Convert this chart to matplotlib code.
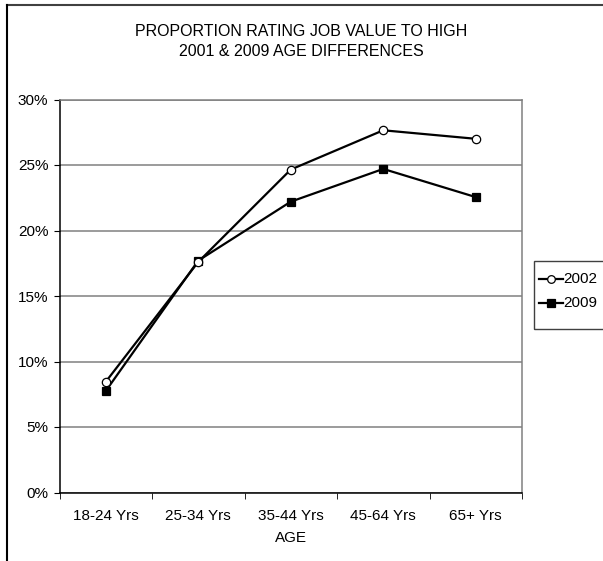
import numpy as np
import matplotlib.pyplot as plt
from matplotlib.lines import Line2D
from matplotlib.patches import Rectangle
from matplotlib.ticker import FixedLocator, PercentFormatter

plt.rcParams['font.family'] = ['Liberation Sans', 'DejaVu Sans']

ages = ['18-24 Yrs', '25-34 Yrs', '35-44 Yrs', '45-64 Yrs', '65+ Yrs']
y2002 = [8.45, 17.6, 24.65, 27.65, 27.0]
y2009 = [7.75, 17.7, 22.2, 24.7, 22.55]
series = [('2002', y2002, 'o', 'white'), ('2009', y2009, 's', 'black')]

W, H = 603, 561
fig = plt.figure(figsize=(W / 100, H / 100), dpi=100)
ax = fig.add_axes([59.5 / W, 1 - 492.5 / H, (522 - 59.5) / W, (492.5 - 99.5) / H])

x = np.arange(len(ages))
for i, (name, vals, mk, fc) in enumerate(series):
    ax.plot(x, vals, '-' + mk, color='black', lw=1.6, ms=6, mfc=fc, mec='black', mew=0.9,
            label=name, zorder=4 - i)

ax.set_xlim(-0.5, len(ages) - 0.5)
ax.set_ylim(0, 30)
ax.set_yticks(np.arange(0, 31, 5))
ax.yaxis.set_major_formatter(PercentFormatter(decimals=0))
ax.yaxis.grid(True, color='#808080', lw=1.1)
ax.set_axisbelow(True)

ax.set_xticks(x)
ax.set_xticklabels(ages)
ax.xaxis.set_minor_locator(FixedLocator(np.arange(-0.5, len(ages), 1)))
ax.tick_params(axis='x', which='major', length=0, pad=12, labelsize=11)
ax.tick_params(axis='x', which='minor', length=4, direction='out', color='black')
ax.tick_params(axis='y', length=4, direction='out', labelsize=11, pad=4)

for s in ['top', 'right']:
    ax.spines[s].set_color('#808080')
    ax.spines[s].set_linewidth(1.1)
for s in ['left', 'bottom']:
    ax.spines[s].set_color('black')
    ax.spines[s].set_linewidth(1.1)

ax.set_xlabel('AGE', fontsize=11, labelpad=6)

fig.text(0.5, 1 - 32 / H, 'PROPORTION RATING JOB VALUE TO HIGH', ha='center', va='center', fontsize=11.5)
fig.text(0.5, 1 - 51 / H, '2001 & 2009 AGE DIFFERENCES', ha='center', va='center', fontsize=11.5)

# legend drawn in figure pixels
fig.add_artist(Rectangle((534 / W, 1 - 329 / H), 80 / W, 68 / H, transform=fig.transFigure,
                         fill=False, edgecolor='#404040', lw=1.0))
for (name, vals, mk, fc), ly in zip(series, [279, 303]):
    yy = 1 - ly / H
    fig.add_artist(Line2D([539 / W, 563 / W], [yy, yy], color='black', lw=1.6,
                          marker=None))
    fig.add_artist(Line2D([551 / W], [yy], marker=mk, ms=5.5, mfc=fc, mec='black', mew=0.9,
                          ls='none'))
    fig.text(563.5 / W, yy, name, ha='left', va='center', fontsize=11)

# outer chart frame
fig.add_artist(Line2D([7 / W, 1], [1 - 4.5 / H, 1 - 4.5 / H], color='#404040', lw=1.5))
fig.add_artist(Line2D([7 / W, 7 / W], [0, 1 - 4.5 / H], color='black', lw=1.5))

plt.savefig('out.png', dpi=100)
